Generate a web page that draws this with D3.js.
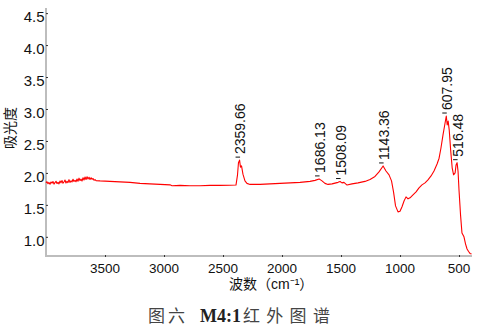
<!DOCTYPE html>
<html>
<head>
<meta charset="utf-8">
<script src="https://cdn.jsdelivr.net/npm/d3@7/dist/d3.min.js"></script>
<style>
  html, body { margin: 0; padding: 0; background: #fff; }
  svg { display: block; }
</style>
</head>
<body>
<svg id="chart" width="479" height="333"></svg>
<script>
// IR spectrum of sample M4:1 — wavenumber (cm⁻¹) vs absorbance
const wavenumbers = [
  4000, 3992, 3983, 3975, 3966, 3958, 3949, 3941, 3932, 3924, 3915, 3907, 3898, 3890,
  3881, 3873, 3864, 3856, 3847, 3839, 3831, 3822, 3814, 3805, 3797, 3788, 3780, 3771,
  3763, 3754, 3746, 3737, 3729, 3720, 3712, 3703, 3695, 3686, 3678, 3669, 3661, 3652,
  3644, 3635, 3627, 3618, 3610, 3601, 3593, 3584, 3576, 3542, 3458,
  3373, 3288, 3203, 3119, 3034, 2949, 2932, 2864, 2780, 2695, 2610, 2525, 2441, 2390,
  2377, 2369, 2359.66, 2352, 2343, 2331, 2314, 2297, 2271, 2186, 2102, 2017, 1932, 1847,
  1763, 1720, 1686.13, 1661, 1636, 1610, 1576, 1542, 1525, 1508.09, 1492, 1475, 1449,
  1407, 1356, 1297, 1254, 1212, 1178, 1143.36, 1119, 1093, 1072, 1055, 1038, 1017, 1000,
  983, 966, 949, 932, 915, 890, 864, 839, 814, 788, 763, 737, 712, 686, 669, 653, 636,
  623, 607.95, 600, 592, 583, 571, 558, 546, 533, 525, 516.48, 508, 500, 487, 475, 458,
  445, 432, 419, 407, 394
];
const absorbance = [
  1.845, 1.862, 1.830, 1.851, 1.823, 1.858, 1.840, 1.866, 1.825, 1.848, 1.870, 1.834, 1.852, 1.828,
  1.873, 1.845, 1.880, 1.838, 1.861, 1.889, 1.842, 1.870, 1.848, 1.894, 1.851, 1.877, 1.858, 1.900,
  1.866, 1.884, 1.862, 1.905, 1.870, 1.918, 1.880, 1.902, 1.874, 1.925, 1.890, 1.935, 1.896, 1.940,
  1.905, 1.932, 1.898, 1.925, 1.900, 1.912, 1.886, 1.895, 1.880, 1.875, 1.867,
  1.859, 1.852, 1.836, 1.828, 1.820, 1.813, 1.800, 1.805, 1.800, 1.800, 1.805, 1.805, 1.808, 1.810,
  1.970, 2.160, 2.200, 2.090, 2.110, 1.980, 1.875, 1.836, 1.820, 1.820, 1.828, 1.836, 1.844, 1.852,
  1.867, 1.883, 1.906, 1.875, 1.836, 1.820, 1.828, 1.844, 1.852, 1.865, 1.844, 1.852, 1.810,
  1.828, 1.844, 1.867, 1.898, 1.945, 2.016, 2.109, 2.030, 1.969, 1.875, 1.703, 1.484, 1.390, 1.400,
  1.470, 1.560, 1.625, 1.594, 1.610, 1.656, 1.703, 1.766, 1.813, 1.844, 1.890, 1.953, 2.031, 2.140, 2.230, 2.390, 2.590,
  2.730, 2.890, 2.750, 2.810, 2.670, 2.360, 2.080, 1.970, 2.000, 2.125, 2.160, 2.020, 1.730, 1.340, 1.060, 1.000,
  0.890, 0.810, 0.770, 0.740, 0.730
];

// Annotated peak positions (cm⁻¹)
const peakLabels = ["2359.66", "1686.13", "1508.09", "1143.36", "607.95", "516.48"];

const xTicks = [3500, 3000, 2500, 2000, 1500, 1000, 500];
const yTicks = [1.0, 1.5, 2.0, 2.5, 3.0, 3.5, 4.0, 4.5];

const yTitle = "吸光度";
const xTitle = "波数（cm⁻¹）";
// caption pieces: figure number, sample id, title
const captionParts = ["图六", "M4:1", "红外图谱"];

const svg = d3.select("#chart");
const plotLeft = 46, plotRight = 472, plotTop = 8, plotBottom = 256;

const x = d3.scaleLinear().domain([4000, 390]).range([plotLeft, plotRight]);
const y = d3.scaleLinear().domain([0.70, 4.58]).range([plotBottom, plotTop]);

const points = wavenumbers.map((w, i) => ({ w, a: absorbance[i] }));

// axes lines (light grey frame on left and bottom)
svg.append("line")
  .attr("x1", plotLeft).attr("x2", plotLeft).attr("y1", plotTop).attr("y2", plotBottom + 1)
  .attr("stroke", "#bdbdbd").attr("stroke-width", 2);
svg.append("line")
  .attr("x1", plotLeft - 1).attr("x2", plotRight).attr("y1", plotBottom).attr("y2", plotBottom)
  .attr("stroke", "#bdbdbd").attr("stroke-width", 2);

// y axis ticks + labels
const yAxis = d3.axisRight(y).tickValues(yTicks).tickSize(2).tickFormat("");
const gy = svg.append("g").attr("transform", `translate(${plotLeft},0)`).call(yAxis);
gy.select(".domain").remove();
gy.selectAll(".tick line").attr("stroke", "#333");
svg.append("g").selectAll("text").data(yTicks).join("text")
  .attr("x", plotLeft - 1.5)
  .attr("y", d => y(d) + 3.5)
  .attr("dy", "0.35em")
  .attr("text-anchor", "end")
  .attr("font-family", "Liberation Sans, Arial, sans-serif")
  .attr("font-size", 15)
  .attr("fill", "#111")
  .text(d => d3.format(".1f")(d));

// x axis ticks + labels
const xAxis = d3.axisTop(x).tickValues(xTicks).tickSize(2).tickFormat("");
const gx = svg.append("g").attr("transform", `translate(0,${plotBottom + 1})`).call(xAxis);
gx.select(".domain").remove();
gx.selectAll(".tick line").attr("stroke", "#333");
svg.append("g").selectAll("text").data(xTicks).join("text")
  .attr("x", d => x(d))
  .attr("y", 268.5)
  .attr("dy", "0.35em")
  .attr("text-anchor", "middle")
  .attr("font-family", "Liberation Sans, Arial, sans-serif")
  .attr("font-size", 13.5)
  .attr("fill", "#111")
  .text(d => d);

// spectrum line
const line = d3.line().x(d => x(d.w)).y(d => y(d.a));
svg.append("path")
  .datum(points)
  .attr("fill", "none")
  .attr("stroke", "#ff0000")
  .attr("stroke-width", 1.1)
  .attr("stroke-linejoin", "round")
  .attr("d", line);

// peak annotations
const peakG = svg.append("g");
peakLabels.forEach(lbl => {
  const w = +lbl;
  const p = points.find(d => d.w === w);
  const px = x(w), py = y(p.a);
  const ty = py - 6;
  peakG.append("line")
    .attr("x1", px - 4).attr("x2", px + 0.5)
    .attr("y1", py - 3).attr("y2", py - 3)
    .attr("stroke", "#111").attr("stroke-width", 1);
  peakG.append("text")
    .attr("transform", `translate(${px},${ty}) rotate(-90)`)
    .attr("dy", "0.4em")
    .attr("font-family", "Liberation Sans, Arial, sans-serif")
    .attr("font-size", 14)
    .attr("fill", "#111")
    .text(lbl);
});

// axis titles
svg.append("text")
  .attr("transform", "translate(10,128) rotate(-90)")
  .attr("dy", "0.35em")
  .attr("text-anchor", "middle")
  .attr("font-family", "Noto Sans CJK SC, sans-serif")
  .attr("font-size", 14)
  .attr("fill", "#111")
  .text(yTitle);

svg.append("text")
  .attr("x", 229).attr("y", 284)
  .attr("dy", "0.35em")
  .attr("font-family", "Liberation Sans, Noto Sans CJK SC, sans-serif")
  .attr("font-size", 14)
  .attr("fill", "#111")
  .text(xTitle);

// caption
const cap = svg.append("text")
  .attr("y", 316)
  .attr("dy", "0.35em")
  .attr("font-family", "Liberation Serif, Noto Sans CJK SC, serif")
  .attr("font-size", 17)
  .attr("fill", "#444");
cap.append("tspan").attr("x", 148).attr("letter-spacing", 3).text(captionParts[0]);
cap.append("tspan").attr("x", 200).attr("font-weight", "bold").attr("font-size", 18)
  .attr("fill", "#222").text(captionParts[1]);
cap.append("tspan").attr("x", 243).attr("letter-spacing", 6.3).text(captionParts[2]);
</script>
</body>
</html>
